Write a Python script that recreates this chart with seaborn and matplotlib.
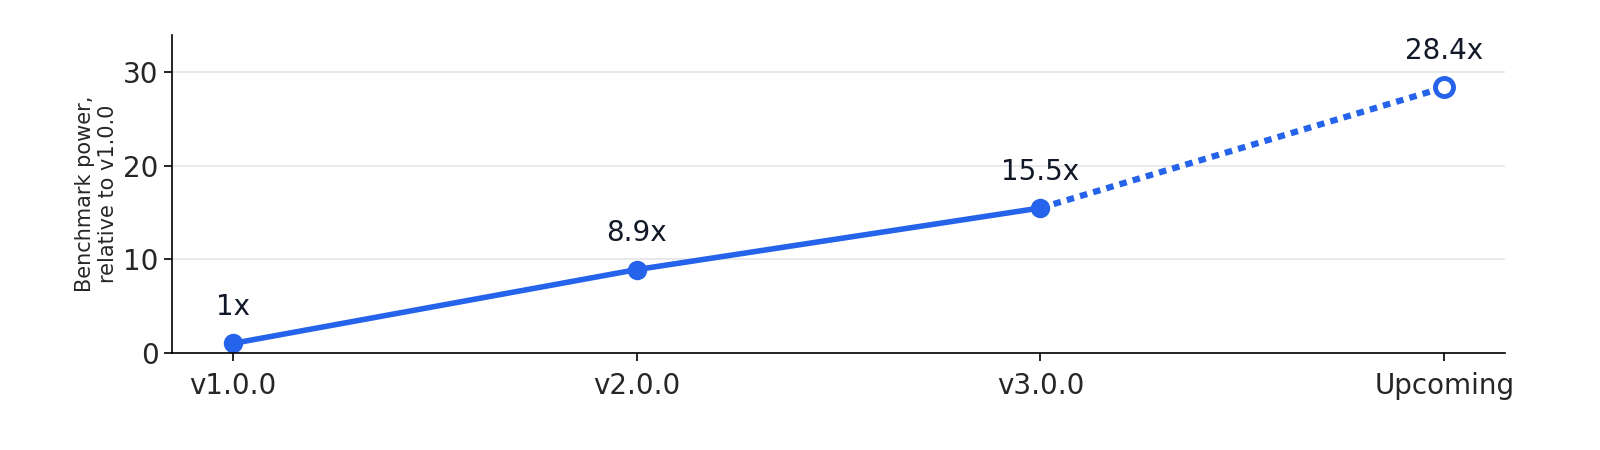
import matplotlib
matplotlib.use("Agg")
import matplotlib.pyplot as plt
import seaborn as sns
import pandas as pd

versions = ["v1.0.0", "v2.0.0", "v3.0.0", "Upcoming"]
power = [1, 8.9, 15.5, 28.4]
labels = ["1x", "8.9x", "15.5x", "28.4x"]

blue = "#2563EB"
sns.set_style("white")
plt.rcParams['font.family'] = ['DejaVu Sans']

df = pd.DataFrame({"x": range(len(versions)), "power": power})

fig, ax = plt.subplots(figsize=(16, 4.5), dpi=100)
fig.subplots_adjust(left=0.1075, right=0.9406, top=0.922, bottom=0.216)

sns.lineplot(data=df.iloc[:3], x="x", y="power", ax=ax, color=blue, lw=4,
             marker="o", markersize=14, markeredgewidth=0)
ax.plot(df["x"].iloc[2:], df["power"].iloc[2:], ls=(0, (1.2, 1.0)), color=blue, lw=4.5)
ax.plot(df["x"].iloc[3], df["power"].iloc[3], "o", markersize=13,
        markerfacecolor="white", markeredgecolor=blue, markeredgewidth=3.5, zorder=5)

for x, y, t in zip(df["x"], power, labels):
    ax.annotate(t, (x, y), xytext=(0, 16), textcoords="offset points",
                ha="center", va="bottom", fontsize=20, color="#111827")

ax.set_xlim(-0.15, 3.15)
ax.set_ylim(0, 34)
ax.set_yticks([0, 10, 20, 30])
ax.set_xticks(range(len(versions)))
ax.set_xticklabels(versions)
ax.tick_params(axis="both", labelsize=20, length=6, width=1.2, color="black",
               bottom=True, left=True)
ax.tick_params(axis="x", pad=8)
ax.set_xlabel("")
ax.set_ylabel("Benchmark power,\nrelative to v1.0.0", fontsize=15)
ax.grid(axis="y", color="#e5e5e5", lw=1.2)
ax.set_axisbelow(True)
for s in ["top", "right"]:
    ax.spines[s].set_visible(False)
for s in ["left", "bottom"]:
    ax.spines[s].set_color("black")
    ax.spines[s].set_linewidth(1.2)

fig.savefig("out.png")
